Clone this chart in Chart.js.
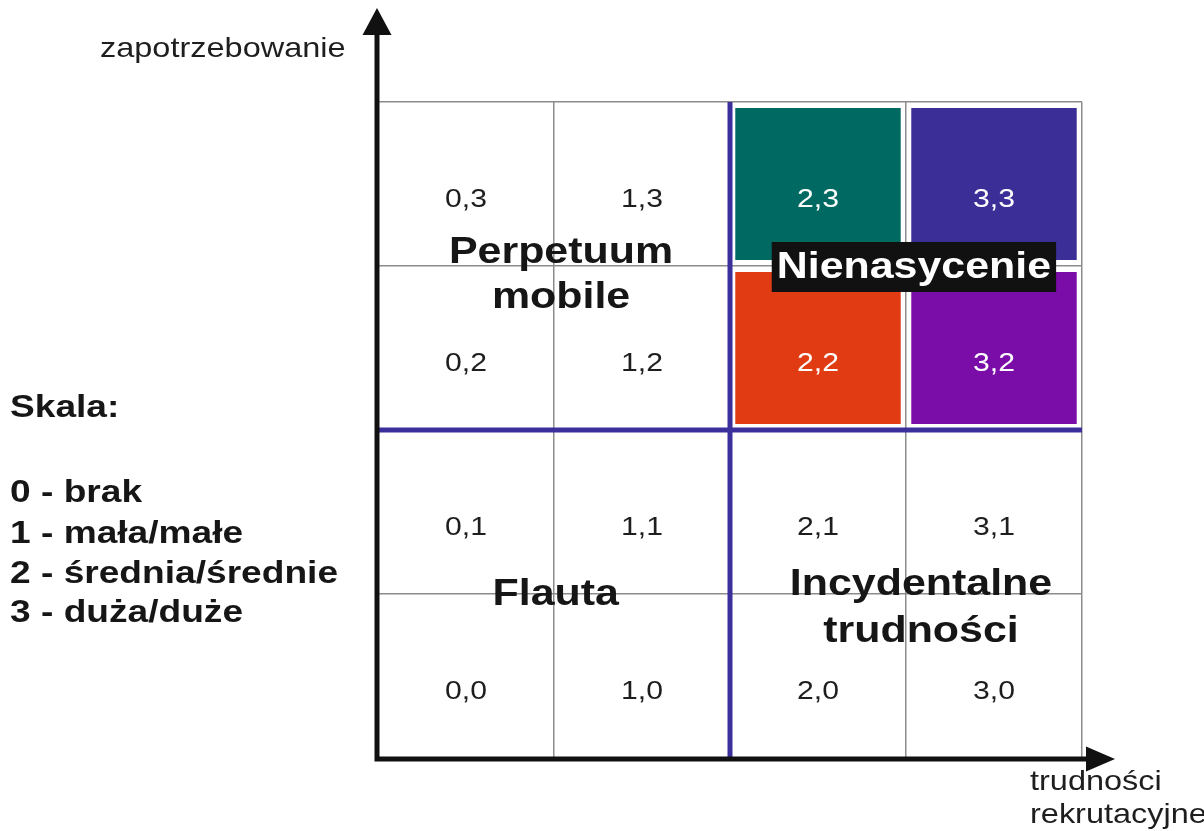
<!DOCTYPE html>
<html lang="pl">
<head>
<meta charset="utf-8">
<title>Zapotrzebowanie a trudności rekrutacyjne</title>
<script src="https://cdn.jsdelivr.net/npm/chart.js@4.4.1/dist/chart.umd.min.js"></script>
<style>
  html, body { margin: 0; padding: 0; background: #fff; }
  #matrix { display: block; }
</style>
</head>
<body>
<canvas id="matrix" width="1204" height="831"></canvas>
<script>
// columns = trudności rekrutacyjne, rows = zapotrzebowanie
const difficultyLevels = ['0', '1', '2', '3'];
const demandLevels = [0, 1, 2, 3];

// shaded cells (col, row)
const shadedCols = [2, 3, 2, 3];
const shadedRows = [3, 3, 2, 2];

// quadrant names
const quadrantNames = [['Perpetuum', 'mobile'], ['Flauta'], ['Incydentalne', 'trudności'], ['Nienasycenie']];

const scaleTitle = 'Skala:';
const scaleLegend = ['0 - brak', '1 - mała/małe', '2 - średnia/średnie', '3 - duża/duże'];
const yTitle = 'zapotrzebowanie';
const xTitle = ['trudności', 'rekrutacyjne'];

// --- styles ---
const shadeColors = ['#006a62', '#3b2e96', '#e03b12', '#7a0ca8'];
const FONT = '"Liberation Sans", Arial, sans-serif';
const STRETCH = 1.16;     // the original text is a bit wider than Arial
const INSET = 0.037;      // white gap around shaded cells (row units)
const DIVIDER = '#3a2f9b';

// anchors for quadrant names: x in column index, y in row units (baselines)
const quadrantAnchors = [
    { x: 0.54, y: [3.018, 2.744] },
    { x: 0.51, y: [0.933] },
    { x: 2.585, y: [0.994, 0.707] },
    { x: 2.545, y: [2.927] }
];

function stretchedText(ctx, text, x, y, font, color, align) {
    ctx.save();
    ctx.font = font;
    ctx.fillStyle = color;
    ctx.textAlign = align || 'center';
    ctx.textBaseline = 'alphabetic';
    ctx.translate(x, y);
    ctx.scale(STRETCH, 1);
    ctx.fillText(text, 0, 0);
    ctx.restore();
}

const datasets = shadedCols.map((col, k) => {
    const row = shadedRows[k];
    return {
        label: col + ',' + row,
        data: difficultyLevels.map((_, i) => i === col ? [row + INSET, row + 1 - INSET] : null),
        backgroundColor: shadeColors[k],
        borderWidth: 0,
        grouped: false,
        barPercentage: 0.94,
        categoryPercentage: 1
    };
});

const matrixDecor = {
    id: 'matrixDecor',
    beforeDatasetsDraw(chart) {
        const { ctx, chartArea, scales } = chart;
        const xs = scales.x, ys = scales.y;
        ctx.save();
        ctx.strokeStyle = DIVIDER;
        ctx.lineWidth = 5;
        const xMid = xs.getPixelForValue(1.5);
        const yMid = ys.getPixelForValue(2);
        ctx.beginPath();
        ctx.moveTo(xMid, chartArea.top);
        ctx.lineTo(xMid, chartArea.bottom);
        ctx.moveTo(chartArea.left, yMid);
        ctx.lineTo(chartArea.right, yMid);
        ctx.stroke();
        ctx.restore();
    },
    afterDatasetsDraw(chart) {
        const { ctx, scales } = chart;
        const xs = scales.x, ys = scales.y;

        // cell coordinates
        difficultyLevels.forEach((c, ci) => {
            demandLevels.forEach(r => {
                let shaded = false;
                shadedCols.forEach((sc, k) => { if (sc === ci && shadedRows[k] === r) shaded = true; });
                stretchedText(ctx, c + ',' + r, xs.getPixelForValue(ci), ys.getPixelForValue(r + 0.36),
                    '26px ' + FONT, shaded ? '#ffffff' : '#1e1e1e');
            });
        });

        // quadrant names
        const boldFont = 'bold 37px ' + FONT;
        quadrantNames.forEach((lines, q) => {
            const a = quadrantAnchors[q];
            const px = xs.getPixelForValue(a.x);
            lines.forEach((line, li) => {
                const py = ys.getPixelForValue(a.y[li]);
                if (q === 3) {
                    ctx.save();
                    ctx.font = boldFont;
                    const w = ctx.measureText(line).width * STRETCH + 10;
                    ctx.fillStyle = '#111111';
                    ctx.fillRect(px - w / 2, py - 36, w, 50);
                    ctx.restore();
                    stretchedText(ctx, line, px, py, boldFont, '#ffffff');
                } else {
                    stretchedText(ctx, line, px, py, boldFont, '#161616');
                }
            });
        });
    },
    afterDraw(chart) {
        const { ctx, chartArea } = chart;
        const ax = chartArea.left - 1;
        const ay = chartArea.bottom + 1;
        ctx.save();
        ctx.strokeStyle = '#111111';
        ctx.fillStyle = '#111111';
        ctx.lineWidth = 5;
        ctx.beginPath();
        ctx.moveTo(ax, ay + 2.5);
        ctx.lineTo(ax, 30);
        ctx.moveTo(ax - 2.5, ay);
        ctx.lineTo(chartArea.right + 8, ay);
        ctx.stroke();
        // arrow heads
        ctx.beginPath();
        ctx.moveTo(ax - 14.5, 35);
        ctx.lineTo(ax + 14.5, 35);
        ctx.lineTo(ax, 8);
        ctx.closePath();
        ctx.fill();
        ctx.beginPath();
        ctx.moveTo(chartArea.right + 4, ay - 12.5);
        ctx.lineTo(chartArea.right + 4, ay + 12.5);
        ctx.lineTo(chartArea.right + 33, ay);
        ctx.closePath();
        ctx.fill();
        ctx.restore();

        // axis titles
        stretchedText(ctx, yTitle, 100, 57, '28px ' + FONT, '#1e1e1e', 'left');
        stretchedText(ctx, xTitle[0], 1030, 790, '28px ' + FONT, '#1e1e1e', 'left');
        stretchedText(ctx, xTitle[1], 1030, 823, '28px ' + FONT, '#1e1e1e', 'left');

        // scale legend
        stretchedText(ctx, scaleTitle, 10, 417, 'bold 32px ' + FONT, '#161616', 'left');
        const legendBaselines = [502, 543, 583, 622];
        scaleLegend.forEach((t, i) => {
            stretchedText(ctx, t, 10, legendBaselines[i], 'bold 32px ' + FONT, '#161616', 'left');
        });
    }
};

new Chart(document.getElementById('matrix'), {
    type: 'bar',
    data: {
        labels: difficultyLevels,
        datasets: datasets
    },
    options: {
        responsive: false,
        animation: false,
        layout: {
            padding: { left: 378, right: 122, top: 102, bottom: 73 }
        },
        plugins: {
            legend: { display: false },
            tooltip: { enabled: false }
        },
        scales: {
            x: {
                type: 'category',
                offset: true,
                grid: { offset: true, color: '#8c8c8c', lineWidth: 1.5, drawTicks: false },
                border: { display: false },
                ticks: { display: false }
            },
            y: {
                type: 'linear',
                min: 0,
                max: 4,
                grid: { color: '#8c8c8c', lineWidth: 1.5, drawTicks: false },
                border: { display: false },
                ticks: { display: false, stepSize: 1 }
            }
        }
    },
    plugins: [matrixDecor]
});
</script>
</body>
</html>
